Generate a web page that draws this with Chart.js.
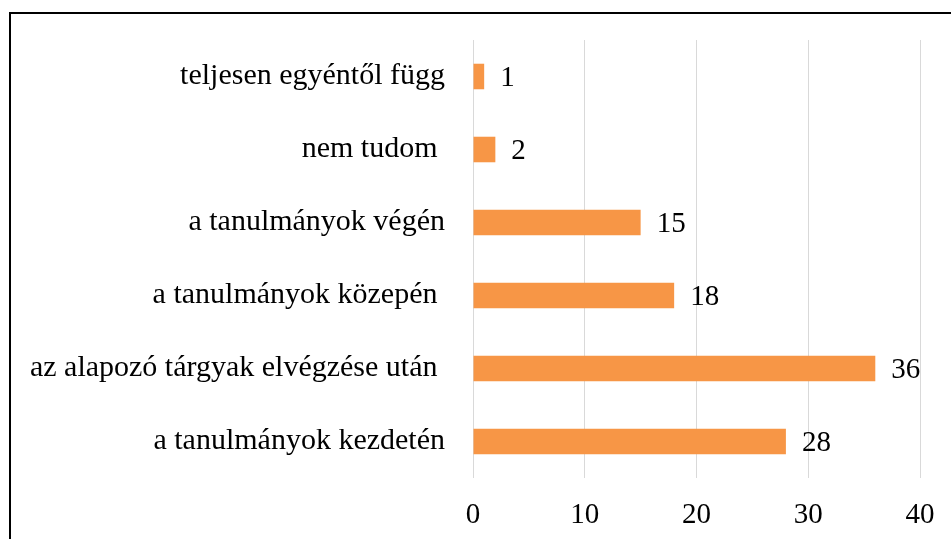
<!DOCTYPE html>
<html>
<head>
<meta charset="utf-8">
<script src="https://cdn.jsdelivr.net/npm/chart.js@4"></script>
<style>
  html, body { margin: 0; padding: 0; background: #fff; overflow: hidden; }
  #wrap { position: relative; width: 951px; height: 539px; }
  #frame { position: absolute; left: 9px; top: 12px; width: 960px; height: 560px; border: 2px solid #000; box-sizing: border-box; }
  #c { position: absolute; left: 0; top: 0; }
</style>
</head>
<body>
<div id="wrap">
  <div id="frame"></div>
  <canvas id="c" width="951" height="539"></canvas>
</div>
<script>
// some source labels carry a trailing space, as in the original sheet
var categories = [
    'teljesen egyéntől függ',
    'nem tudom ',
    'a tanulmányok végén',
    'a tanulmányok közepén ',
    'az alapozó tárgyak elvégzése után ',
    'a tanulmányok kezdetén'
];
var values = [1, 2, 15, 18, 36, 28];
var xTicks = [0, 10, 20, 30, 40];

var serif = '"Liberation Serif", "Times New Roman", serif';

// value labels to the right of each bar
var valueLabels = {
    id: 'valueLabels',
    afterDatasetsDraw: function (chart) {
        var ctx = chart.ctx;
        var meta = chart.getDatasetMeta(0);
        ctx.save();
        ctx.font = '29px ' + serif;
        ctx.fillStyle = '#000';
        ctx.textAlign = 'left';
        ctx.textBaseline = 'middle';
        meta.data.forEach(function (bar, i) {
            ctx.fillText(String(values[i]), bar.x + 16, bar.y + 2);
        });
        ctx.restore();
    }
};

var ctx = document.getElementById('c').getContext('2d');
var chart = new Chart(ctx, {
    type: 'bar',
    data: {
        labels: categories,
        datasets: [{
            data: values,
            backgroundColor: '#f79646',
            borderWidth: 0,
            barPercentage: 0.7,
            categoryPercentage: 0.5
        }]
    },
    options: {
        indexAxis: 'y',
        responsive: false,
        animation: false,
        layout: { padding: { top: 40, right: 31, left: 0, bottom: 0 } },
        plugins: {
            legend: { display: false },
            tooltip: { enabled: false }
        },
        scales: {
            x: {
                min: xTicks[0],
                max: xTicks[xTicks.length - 1],
                afterBuildTicks: function (scale) {
                    scale.ticks = xTicks.map(function (v) { return { value: v }; });
                },
                afterFit: function (scale) {
                    scale.height = 61;
                    scale.paddingLeft = 0;
                    scale.paddingRight = 0;
                },
                grid: { color: '#d9d9d9', lineWidth: 1, drawTicks: false },
                border: { display: false },
                ticks: { color: '#000', padding: 20, font: { family: serif, size: 29 } }
            },
            y: {
                afterFit: function (scale) {
                    scale.width = 473;
                    scale.paddingTop = 0;
                    scale.paddingBottom = 0;
                },
                grid: { display: false, drawTicks: false },
                border: { display: false },
                ticks: { color: '#000', padding: 28, font: { family: serif, size: 30 } }
            }
        }
    },
    plugins: [valueLabels]
});
</script>
</body>
</html>
